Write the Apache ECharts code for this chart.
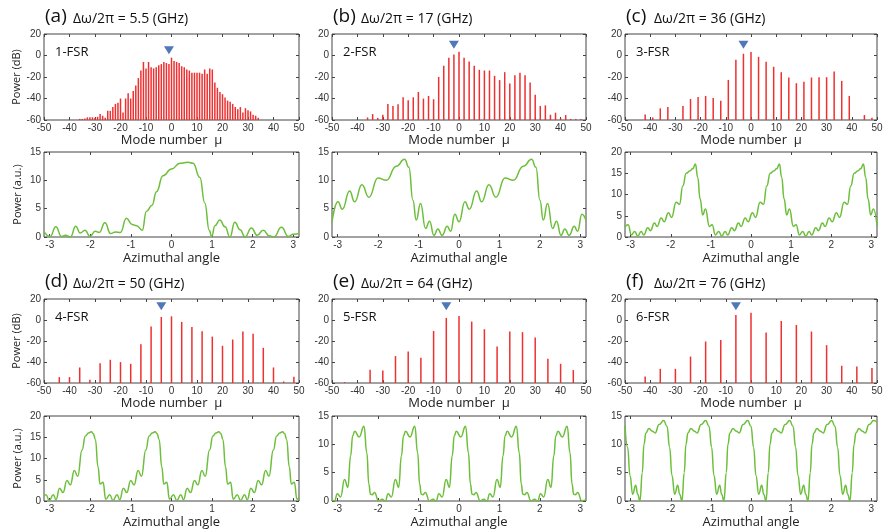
<!DOCTYPE html>
<html><head><meta charset="utf-8">
<script src="https://cdn.jsdelivr.net/npm/echarts@6/dist/echarts.min.js"></script>
<style>html,body{margin:0;padding:0;background:#fff}#c{width:883px;height:532px}</style>
</head><body><div id="c"></div>
<script>
// ---------- text ----------
const panelLabels = ['(a)', '(b)', '(c)', '(d)', '(e)', '(f)'];
const detuningLabels = ['Δω/2π = 5.5 (GHz)', 'Δω/2π = 17 (GHz)', 'Δω/2π = 36 (GHz)', 'Δω/2π = 50 (GHz)', 'Δω/2π = 64 (GHz)', 'Δω/2π = 76 (GHz)'];
const fsrLabels = ['1-FSR', '2-FSR', '3-FSR', '4-FSR', '5-FSR', '6-FSR'];
const angleTicks = [-3, -2, -1, 0, 1, 2, 3];

// ---------- spectra (mode number, power dB) ----------
const muA = [-36,-35,-34,-33,-32,-31,-30,-29,-28,-27,-26,-25,-24,-23,-22,-21,-20,-19,-18,-17,-16,-15,-14,-13,-12,-11,-10,-9,-8,-7,-6,-5,-4,-3,-2,-1,0,1,2,3,4,5,6,7,8,9,10,11,12,13,14,15,16,17,18,19,20,21,22,23,24,25,26,27,28,29,30,31,32,33,34];
const dbA = [-59,-59,-58.5,-57.5,-57.5,-57.5,-58,-57,-54.5,-56,-58,-51.5,-51.5,-48,-45,-44,-40,-53,-40,-35,-40,-33,-28,-21,-14,-6,-12,-6,-11,-12,-11,-9,-8,-6,-7,-8,-2,-5,-6,-7,-10,-11,-13,-14,-16,-16,-16,-16,-17,-13,-17,-12,-13,-25,-30,-34,-36,-39,-42,-43,-45,-48,-50,-48,-53,-49,-51,-52,-55,-56,-58];
const muB = [-36,-34,-32,-30,-28,-26,-24,-22,-20,-18,-16,-14,-12,-10,-8,-6,-4,-2,0,2,4,6,8,10,12,14,16,18,20,22,24,26,28,30,32,34,36,38,40,42,44,46,48];
const dbB = [-57.6,-54.5,-58,-55,-45.1,-47,-45.4,-38.9,-41.7,-38.9,-33.9,-40.1,-37.6,-40.7,-19.9,-9.6,-2.1,1.0,3.5,-2.1,-5.5,-9.6,-13.3,-14,-14,-18.9,-22.9,-15.5,-26,-18.3,-16.1,-18.3,-25.2,-36.4,-47,-46.4,-55.1,-53.2,-58.5,-55.4,-59,-59,-59];
const muC = [-42,-39,-36,-33,-27,-24,-21,-18,-15,-12,-9,-6,-3,0,3,6,9,12,15,18,21,24,27,30,33,36,39,45,48];
const dbC = [-54.8,-57.6,-49.2,-47.9,-47,-40.4,-38.6,-37.6,-39.5,-42,-22.7,-4,1.6,3.2,-1.2,-5.9,-10.5,-15.5,-20.5,-25.8,-24.5,-20.5,-20.2,-20.2,-14.9,-23.6,-37.6,-55.4,-57.9];
const muD = [-44,-40,-36,-32,-28,-24,-20,-16,-12,-8,-4,0,4,8,12,16,20,24,28,32,36,40,44,48];
const dbD = [-54.4,-54.4,-45.2,-56.9,-41.1,-37.9,-40.1,-41.7,-23,-6.3,2.9,3.5,-1.8,-6.6,-10.7,-15.8,-24.6,-18.6,-11,-13.2,-26.5,-45.2,-58.5,-54];
const muE = [-45,-35,-30,-25,-20,-15,-10,-5,0,5,10,15,20,25,30,35,40,45];
const dbE = [-59.1,-47.4,-48,-34.4,-30,-36,-10.4,2,3.9,-1.5,-8.8,-25.3,-11,-11.6,-16.7,-37,-41.7,-47.7];
const muF = [-42,-36,-30,-24,-18,-12,-6,0,6,12,18,24,30,36,42,48];
const dbF = [-53.7,-46.5,-46.5,-34.8,-20.5,-19,4.8,7,-12,-0.9,-4.7,-11,-24,-43.6,-44.2,-45.8];

// pump marker (mode, dB)
const pumpMu = [-1, -2, -3, -4, -5, -6];
const pumpDb = [5, 10, 10, 13, 13, 13];

// ---------- intracavity power vs azimuthal angle ----------
const angA = [-3.14,-2.99,-2.85,-2.71,-2.61,-2.49,-2.36,-2.25,-2.13,-2.01,-1.88,-1.78,-1.64,-1.50,-1.38,-1.26,-1.11,-0.97,-0.86,-0.72,-0.62,-0.48,-0.37,-0.21,0.00,0.21,0.41,0.53,0.70,0.82,0.93,0.99,1.07,1.19,1.32,1.44,1.56,1.69,1.81,1.97,2.11,2.26,2.41,2.52,2.71,2.88,3.00,3.14];
const powA = [0.9,0.1,1.8,0.1,0.3,0.0,1.9,0.7,1.2,0.1,1.0,0.8,2.5,0.6,0.9,0.8,3.3,2.2,2.0,1.2,4.5,5.6,8.0,10.8,12.0,13.0,13.2,13.0,10.5,6,1.2,0.1,2.0,3.0,1.8,0.0,2.6,1.3,0.0,1.6,0.3,1.2,0.2,0.0,1.7,0.1,0.5,0.6];

const angB = [-3.142,-2.994,-2.887,-2.705,-2.582,-2.401,-2.228,-2.005,-1.799,-1.552,-1.346,-1.239,-1.140,-1.058,-0.951,-0.827,-0.728,-0.621,-0.523,-0.415,-0.292,-0.209,-0.102,0.000,0.148,0.255,0.437,0.560,0.741,0.914,1.137,1.343,1.590,1.796,1.903,2.002,2.084,2.191,2.315,2.414,2.521,2.619,2.727,2.850,2.933,3.040,3.142];
const powB = [2.7,6.2,4.9,8.1,6.2,9.2,7.0,10.4,10.0,12.5,13.7,12.3,6.5,3.0,5.9,1.5,2.8,0.3,1.4,0.3,1.9,1.0,4.0,2.7,6.2,4.9,8.1,6.2,9.2,7.0,10.4,10.0,12.5,13.7,12.3,6.5,3.0,5.9,1.5,2.8,0.3,1.4,0.3,1.9,1.0,4.0,2.9];

const angC = [-3.142,-3.064,-2.981,-2.898,-2.823,-2.740,-2.673,-2.573,-2.507,-2.407,-2.340,-2.240,-2.166,-2.057,-1.982,-1.866,-1.783,-1.700,-1.616,-1.517,-1.450,-1.386,
 -1.328,-1.270,-1.203,-1.136,-1.037,-0.970,-0.887,-0.804,-0.729,-0.646,-0.579,-0.479,-0.413,-0.313,-0.246,-0.146,-0.072,0.037,0.112,0.228,0.311,0.394,0.478,0.577,0.644,0.708,
 0.766,0.824,0.891,0.958,1.057,1.124,1.207,1.290,1.365,1.448,1.515,1.615,1.681,1.781,1.848,1.948,2.022,2.131,2.206,2.322,2.405,2.488,2.572,2.671,2.738,2.802,
 2.860,2.918,2.985,3.052,3.142];
const powC = [2.4,2.9,0.5,1.3,0.2,1.3,0.5,2.2,1.5,3.3,2.5,4.5,3.6,5.7,4.6,8.2,7.7,12,15,15.6,16.1,17.2,
 14,9,5.2,6.6,2.5,2.9,0.5,1.3,0.2,1.3,0.5,2.2,1.5,3.3,2.5,4.5,3.6,5.7,4.6,8.2,7.7,12,15,15.6,16.1,17.2,
 14,9,5.2,6.6,2.5,2.9,0.5,1.3,0.2,1.3,0.5,2.2,1.5,3.3,2.5,4.5,3.6,5.7,4.6,8.2,7.7,12,15,15.6,16.1,17.2,
 14,9,5.2,6.6,2.6];

const angD = [-3.142,-3.093,-3.011,-2.912,-2.846,-2.756,-2.674,-2.575,-2.493,-2.394,-2.311,-2.204,-2.122,-2.046,-1.975,
 -1.925,-1.876,-1.810,-1.761,-1.687,-1.621,-1.522,-1.440,-1.341,-1.275,-1.185,-1.103,-1.004,-0.922,-0.823,-0.740,-0.633,-0.551,-0.475,-0.404,
 -0.354,-0.305,-0.239,-0.190,-0.116,-0.050,0.049,0.131,0.230,0.296,0.386,0.468,0.567,0.649,0.748,0.831,0.938,1.020,1.096,1.167,
 1.217,1.266,1.332,1.381,1.455,1.521,1.620,1.702,1.801,1.867,1.957,2.039,2.138,2.220,2.319,2.402,2.509,2.591,2.667,2.738,
 2.788,2.837,2.903,2.952,3.026,3.092,3.142];
const powD = [1.2,1.5,0.1,1.5,0.3,3.0,2.0,4.8,3.8,7.2,5.8,12,15.3,16.0,16.3,
 15.8,14.5,8,4.0,4.4,0.4,1.5,0.1,1.5,0.3,3.0,2.0,4.8,3.8,7.2,5.8,12,15.3,16.0,16.3,
 15.8,14.5,8,4.0,4.4,0.4,1.5,0.1,1.5,0.3,3.0,2.0,4.8,3.8,7.2,5.8,12,15.3,16.0,16.3,
 15.8,14.5,8,4.0,4.4,0.4,1.5,0.1,1.5,0.3,3.0,2.0,4.8,3.8,7.2,5.8,12,15.3,16.0,16.3,
 15.8,14.5,8,4.0,4.4,0.4,0.8];

const angE = [-3.142,-3.080,-3.010,-2.930,-2.830,-2.750,-2.680,-2.630,-2.580,-2.470,-2.350,-2.280,-2.230,-2.190,-2.150,-2.090,-1.990,-1.900,
 -1.823,-1.753,-1.673,-1.573,-1.493,-1.423,-1.373,-1.323,-1.213,-1.093,-1.023,-0.973,-0.933,-0.893,-0.833,-0.733,-0.643,
 -0.567,-0.497,-0.417,-0.317,-0.237,-0.167,-0.117,-0.067,0.043,0.163,0.233,0.283,0.323,0.363,0.423,0.523,0.613,
 0.690,0.760,0.840,0.940,1.020,1.090,1.140,1.190,1.300,1.420,1.490,1.540,1.580,1.620,1.680,1.780,1.870,
 1.946,2.016,2.096,2.196,2.276,2.346,2.396,2.446,2.556,2.676,2.746,2.796,2.836,2.876,2.936,3.036,3.142];
const powE = [0.2,0.0,1.3,0.7,3.8,2.4,8,11.5,12.3,11.3,13.2,8.5,3,1.2,1.1,1.5,0.05,0.3,
 0.0,1.3,0.7,3.8,2.4,8,11.5,12.3,11.3,13.2,8.5,3,1.2,1.1,1.5,0.05,0.3,
 0.0,1.3,0.7,3.8,2.4,8,11.5,12.3,11.3,13.2,8.5,3,1.2,1.1,1.5,0.05,0.3,
 0.0,1.3,0.7,3.8,2.4,8,11.5,12.3,11.3,13.2,8.5,3,1.2,1.1,1.5,0.05,0.3,
 0.0,1.3,0.7,3.8,2.4,8,11.5,12.3,11.3,13.2,8.5,3,1.2,1.1,1.5,0.05,0.2];

const angF = [-3.142,-3.076,-3.018,
 -2.949,-2.875,-2.825,-2.768,-2.711,-2.669,-2.620,-2.546,-2.456,-2.390,-2.292,-2.177,-2.095,-2.029,-1.971,
 -1.902,-1.828,-1.778,-1.721,-1.664,-1.622,-1.573,-1.499,-1.409,-1.343,-1.245,-1.130,-1.048,-0.982,-0.924,
 -0.855,-0.781,-0.731,-0.674,-0.617,-0.575,-0.526,-0.452,-0.362,-0.296,-0.198,-0.083,-0.001,0.065,0.123,
 0.193,0.267,0.317,0.374,0.431,0.473,0.522,0.596,0.686,0.752,0.850,0.965,1.047,1.113,1.171,
 1.240,1.314,1.364,1.421,1.478,1.520,1.569,1.643,1.733,1.799,1.897,2.012,2.094,2.160,2.218,
 2.287,2.361,2.411,2.468,2.525,2.567,2.616,2.690,2.780,2.846,2.944,3.059,3.142];
const powF = [13.3,9.5,4.5,
 1.2,2.8,1.2,0,5,10,12.0,12.8,12.3,12.0,13.5,14.2,13.2,9.5,4.5,
 1.2,2.8,1.2,0,5,10,12.0,12.8,12.3,12.0,13.5,14.2,13.2,9.5,4.5,
 1.2,2.8,1.2,0,5,10,12.0,12.8,12.3,12.0,13.5,14.2,13.2,9.5,4.5,
 1.2,2.8,1.2,0,5,10,12.0,12.8,12.3,12.0,13.5,14.2,13.2,9.5,4.5,
 1.2,2.8,1.2,0,5,10,12.0,12.8,12.3,12.0,13.5,14.2,13.2,9.5,4.5,
 1.2,2.8,1.2,0,5,10,12.0,12.8,12.3,12.0,13.5,14.2,13.9];

const curvesYMax = [15, 15, 20, 20, 15, 15];

// ---------- layout & style ----------
const specGrids = [[44,34,255,86],[332,34,254,86],[625,34,252,86],[44,299,255,84],[332,299,254,84],[625,299,252,84]];
const curveGrids = [[44,152,255,85],[332,152,254,85],[625,152,252,85],[44,416,255,85],[332,416,254,85],[625,416,252,85]];
const tickFont = 'Liberation Sans';
const nameFont = 'Open Sans';
const axisColor = '#444';
const barColor = '#ee3030';
const lineColor = '#6cbf3a';
const pumpColor = '#2356a8';

const spectra = [[muA, dbA], [muB, dbB], [muC, dbC], [muD, dbD], [muE, dbE], [muF, dbF]];
const curves = [[angA, powA], [angB, powB], [angC, powC], [angD, powD], [angE, powE], [angF, powF]];

const grid = [], xAxis = [], yAxis = [], series = [], graphic = [];

function addGrid(r) {
  grid.push({left: r[0], top: r[1], width: r[2], height: r[3], show: true,
    borderColor: axisColor, borderWidth: 1, backgroundColor: 'transparent', containLabel: false, outerBoundsMode: 'none'});
  return grid.length - 1;
}
function tickCfg(custom) {
  const t = {show: true, inside: true, length: 3, lineStyle: {color: axisColor, width: 1}};
  if (custom) t.customValues = custom;
  return t;
}
const noLine = {show: false, onZero: false};
function addAxes(g, xc, yc, xName, yName) {
  const xi = xAxis.length, yi = yAxis.length;
  const xLabel = {show: true, fontSize: 10, color: '#333', fontFamily: tickFont, margin: 3};
  if (xc.custom) xLabel.customValues = xc.custom;
  xAxis.push(Object.assign({type: 'value', gridIndex: g, position: 'bottom', min: xc.min, max: xc.max,
    axisLine: noLine, axisTick: tickCfg(xc.custom), axisLabel: xLabel, splitLine: {show: false},
    name: xName, nameLocation: 'middle', nameGap: xc.nameGap,
    nameTextStyle: {fontFamily: nameFont, fontSize: 13, color: '#222'}}, xc.interval ? {interval: xc.interval} : {}));
  xAxis.push(Object.assign({type: 'value', gridIndex: g, position: 'top', min: xc.min, max: xc.max,
    axisLine: noLine, axisTick: tickCfg(xc.custom), axisLabel: {show: false}, splitLine: {show: false}},
    xc.interval ? {interval: xc.interval} : {}));
  yAxis.push({type: 'value', gridIndex: g, position: 'left', min: yc.min, max: yc.max, interval: yc.interval,
    axisLine: noLine, axisTick: tickCfg(), splitLine: {show: false},
    axisLabel: {show: true, fontSize: 10, color: '#333', fontFamily: tickFont, margin: 3},
    name: yName || '', nameLocation: 'middle', nameGap: 21,
    nameTextStyle: {fontFamily: nameFont, fontSize: 11, color: '#222'}});
  yAxis.push({type: 'value', gridIndex: g, position: 'right', min: yc.min, max: yc.max, interval: yc.interval,
    axisLine: noLine, axisTick: tickCfg(), splitLine: {show: false}, axisLabel: {show: false}});
  return [xi, yi];
}

for (let i = 0; i < 6; i++) {
  // spectrum
  const g = addGrid(specGrids[i]);
  const [xi, yi] = addAxes(g, {min: -50, max: 50, interval: 10, nameGap: 14},
    {min: -60, max: 20, interval: 20}, 'Mode number  μ', i % 3 === 0 ? 'Power (dB)' : '');
  const [mu, db] = spectra[i];
  series.push({
    type: 'custom', xAxisIndex: xi, yAxisIndex: yi, clip: true,
    data: mu.map((m, k) => [m, db[k]]),
    renderItem: function (params, api) {
      const top = api.coord([api.value(0), api.value(1)]);
      const base = api.coord([api.value(0), -60]);
      return {type: 'line', shape: {x1: top[0], y1: top[1], x2: base[0], y2: base[1]},
        style: {stroke: barColor, lineWidth: 1.5}};
    }
  });
  series.push({type: 'scatter', xAxisIndex: xi, yAxisIndex: yi, data: [[pumpMu[i], pumpDb[i]]],
    symbol: 'triangle', symbolRotate: 180, symbolSize: [10, 8], itemStyle: {color: pumpColor}, z: 5});

  // curve
  const g2 = addGrid(curveGrids[i]);
  const [xj, yj] = addAxes(g2, {min: -Math.PI, max: Math.PI, custom: angleTicks, nameGap: 15},
    {min: 0, max: curvesYMax[i], interval: 5}, 'Azimuthal angle', i % 3 === 0 ? 'Power (a.u.)' : '');
  const [ang, pw] = curves[i];
  series.push({type: 'line', xAxisIndex: xj, yAxisIndex: yj, data: ang.map((a, k) => [a, pw[k]]),
    smooth: true, smoothMonotone: 'x', symbol: 'none', lineStyle: {color: lineColor, width: 1.5}, clip: true});

  // titles
  const sr = specGrids[i];
  const ty = sr[1] - 16;
  graphic.push({type: 'text', x: sr[0] + 1, y: ty - 1, style: {text: panelLabels[i], fontFamily: nameFont, fontSize: 19, fill: '#111', verticalAlign: 'middle'}});
  graphic.push({type: 'text', x: sr[0] + 29, y: ty + 1, style: {text: detuningLabels[i], fontFamily: nameFont, fontSize: 14, fill: '#111', verticalAlign: 'middle'}});
  graphic.push({type: 'text', x: sr[0] + 11, y: sr[1] + 18, style: {text: fsrLabels[i], fontFamily: nameFont, fontSize: 13, fill: '#111', verticalAlign: 'middle'}});
}

const chart = echarts.init(document.getElementById('c'), null, {renderer: 'canvas'});
chart.setOption({animation: false, backgroundColor: '#fff', grid, xAxis, yAxis, series, graphic});
</script>
</body></html>
